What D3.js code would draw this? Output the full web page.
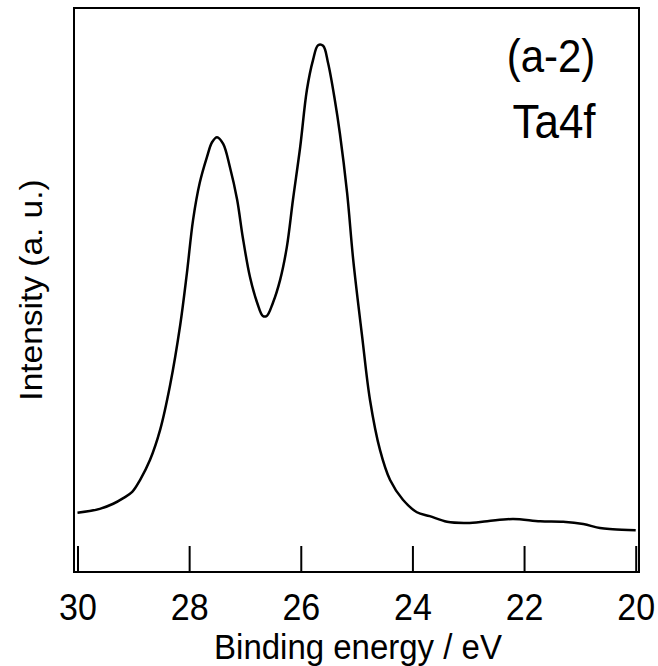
<!DOCTYPE html>
<html>
<head>
<meta charset="utf-8">
<script src="https://cdn.jsdelivr.net/npm/d3@7/dist/d3.min.js"></script>
<style>
  body { margin: 0; background: #fff; }
  text { font-family: "Liberation Sans", Arial, sans-serif; fill: #000; }
</style>
</head>
<body>
<div id="chart"></div>
<script>
// Ta4f XPS spectrum
const energy = [30.0, 29.60, 29.36, 29.18, 29.02, 28.88, 28.70, 28.52, 28.34, 28.16,
  28.04, 27.93, 27.81, 27.68, 27.59, 27.50, 27.39, 27.27, 27.14, 27.04,
  26.91, 26.78, 26.68, 26.61, 26.50, 26.37, 26.25, 26.14, 26.01, 25.89,
  25.78, 25.69, 25.60, 25.51, 25.39, 25.30, 25.17, 25.06, 24.90, 24.76,
  24.58, 24.40, 24.17, 23.92, 23.69, 23.38, 23.02, 22.66, 22.20, 21.71,
  21.30, 20.94, 20.64, 20.41, 20.0];
const intensity = [10.5, 11.2, 12.1, 13.1, 14.2, 16.3, 19.9, 25.2, 33.2, 43.8,
  53.0, 62.4, 69.0, 73.6, 76.2, 77.1, 75.9, 71.8, 66.0, 59.4,
  52.3, 47.7, 45.4, 45.4, 47.7, 51.8, 57.6, 66.0, 75.4, 85.5,
  90.8, 93.4, 93.3, 90.2, 83.7, 77.8, 67.2, 55.3, 41.7, 30.5,
  21.6, 16.3, 12.8, 10.6, 9.9, 8.9, 8.7, 9.0, 9.4, 9.0,
  8.9, 8.5, 7.8, 7.6, 7.4];
const xTicks = [30, 28, 26, 24, 22, 20];

const width = 658, height = 666;
const frame = {left: 74, right: 639, top: 8, bottom: 572};
const stretch = 1.08; // text in the original is a little taller than wide

const svg = d3.select("#chart").append("svg")
  .attr("width", width)
  .attr("height", height);

let x = d3.scaleLinear()
  .domain([30, 20])
  .range([77.5, 635.7]);

let y = d3.scaleLinear()
  .domain([0, 100])
  .range([frame.bottom, frame.top]);

// frame
svg.append("rect")
  .attr("x", frame.left)
  .attr("y", frame.top)
  .attr("width", frame.right - frame.left)
  .attr("height", frame.bottom - frame.top)
  .attr("fill", "none")
  .attr("stroke", "#000")
  .attr("stroke-width", 2);

// ticks pointing inwards, labels below
let xAxis = svg.append("g")
  .attr("transform", `translate(0, ${frame.bottom})`)
  .call(d3.axisBottom(x).tickValues(xTicks).tickSize(-26).tickPadding(0).tickFormat(d3.format("d")));
xAxis.select(".domain").remove();
xAxis.selectAll(".tick line").attr("stroke", "#000").attr("stroke-width", 2);
xAxis.selectAll(".tick text")
  .attr("y", 48 / stretch)
  .attr("dy", 0)
  .attr("transform", `scale(1, ${stretch})`)
  .style("font-size", "34px")
  .style("font-family", "'Liberation Sans', Arial, sans-serif");

// spectrum
let line = d3.line()
  .x(function(d, i) { return x(energy[i]); })
  .y(function(d) { return y(d); })
  .curve(d3.curveCatmullRom.alpha(0.5));

svg.append("path")
  .datum(intensity)
  .attr("d", line)
  .attr("fill", "none")
  .attr("stroke", "#000")
  .attr("stroke-width", 2.5)
  .attr("stroke-linejoin", "round");

// axis titles
svg.append("text")
  .attr("transform", `translate(358, 659) scale(1, ${stretch})`)
  .style("text-anchor", "middle")
  .style("font-size", "33px")
  .text("Binding energy / eV");

svg.append("text")
  .attr("transform", `translate(42, 290) rotate(-90) scale(${stretch}, 1)`)
  .style("text-anchor", "middle")
  .style("font-size", "31px")
  .text("Intensity (a. u.)");

// panel labels
svg.append("text")
  .attr("transform", `translate(551, 72) scale(1, ${stretch})`)
  .style("text-anchor", "middle")
  .style("font-size", "42px")
  .text("(a-2)");

svg.append("text")
  .attr("transform", `translate(554, 138) scale(1, ${stretch})`)
  .style("text-anchor", "middle")
  .style("font-size", "44px")
  .text("Ta4f");
</script>
</body>
</html>
